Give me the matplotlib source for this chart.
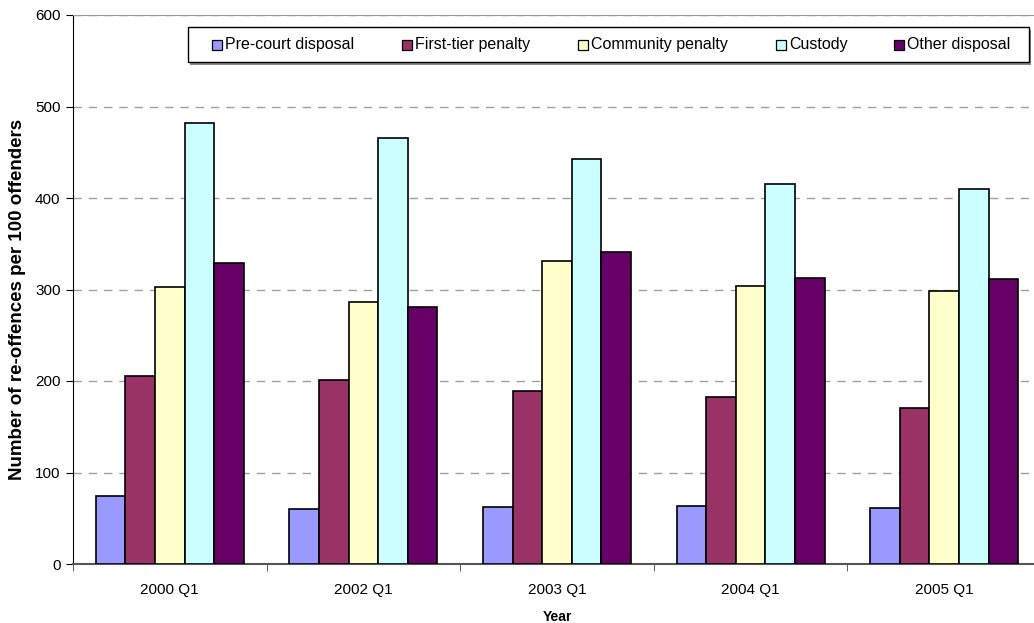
import numpy as np
import matplotlib
matplotlib.use("Agg")
import matplotlib.pyplot as plt
from matplotlib.patches import Rectangle

plt.rcParams['font.family'] = ['Liberation Sans', 'DejaVu Sans']

years = ["2000 Q1", "2002 Q1", "2003 Q1", "2004 Q1", "2005 Q1"]
series_names = ["Pre-court disposal", "First-tier penalty", "Community penalty",
                "Custody", "Other disposal"]
pre_court = [74, 60, 62, 63, 61]
first_tier = [205, 201, 189, 182, 170]
community = [303, 286, 331, 304, 298]
custody = [482, 466, 443, 415, 410]
other = [329, 281, 341, 313, 312]
colors = ["#9999ff", "#993366", "#ffffcc", "#ccffff", "#660066"]

values = [pre_court, first_tier, community, custody, other]

W, H = 1034, 623
fig = plt.figure(figsize=(W / 100, H / 100), dpi=100)
left, right, top, bottom = 73, 1041, 15, 564
ax = fig.add_axes([left / W, 1 - bottom / H, (right - left) / W, (bottom - top) / H])

n = len(years)
bw = 0.153
x = np.arange(n)
for i, (name, vals, c) in enumerate(zip(series_names, values, colors)):
    ax.bar(x - 2 * bw + i * bw, vals, width=bw, color=c, edgecolor="black",
           linewidth=1.2, label=name, zorder=3)

ax.set_xlim(-0.5, n - 0.5)
ax.set_ylim(0, 600)
ax.set_yticks(range(0, 601, 100))
ax.set_xticks(x)
ax.set_xticklabels(years)
ax.set_xticks(np.arange(-0.5, n, 1.0), minor=True)
ax.tick_params(axis="x", which="major", length=0, pad=14, labelsize=11)
ax.tick_params(axis="x", which="minor", length=5, direction="out", color="#444444")
ax.tick_params(axis="y", length=5, direction="out", labelsize=11, pad=4)

ax.yaxis.grid(True, linestyle=(0, (6, 5)), color="#a0a0a0", linewidth=1, zorder=0)
ax.spines["left"].set_color("black")
ax.spines["bottom"].set_color("#555555")
ax.spines["bottom"].set_linewidth(1.5)
ax.spines["top"].set_color("#999999")
ax.spines["right"].set_visible(False)

ax.set_ylabel("Number of re-offences per 100 offenders", fontsize=13.5,
              fontweight="bold")
ax.yaxis.set_label_coords(-0.0486, 0.482)
ax.set_xlabel("Year", fontsize=10, fontweight="bold", labelpad=9)

# legend box with shadow along bottom edge
lx0, lx1, ly0, ly1 = 188, 1029, 27, 62
fig.patches.append(Rectangle((lx0 / W + 0.002, 1 - (ly1 + 3) / H), (lx1 - lx0) / W,
                             (ly1 - ly0) / H, transform=fig.transFigure,
                             facecolor="#888888", edgecolor="none", zorder=5))
fig.patches.append(Rectangle((lx0 / W, 1 - ly1 / H), (lx1 - lx0) / W,
                             (ly1 - ly0) / H, transform=fig.transFigure,
                             facecolor="white", edgecolor="black", linewidth=1, zorder=6))
marker_x = [217, 407, 583, 781, 899]
ymid = 1 - (ly0 + ly1) / 2 / H
for mx, name, c in zip(marker_x, series_names, colors):
    fig.patches.append(Rectangle(((mx - 5) / W, ymid - 5 / H), 10 / W, 10 / H,
                                 transform=fig.transFigure, facecolor=c,
                                 edgecolor="black", linewidth=0.9, zorder=7))
    fig.text((mx + 8) / W, ymid, name, fontsize=11.5, va="center", ha="left", zorder=8)

fig.savefig("out.png", dpi=100)
